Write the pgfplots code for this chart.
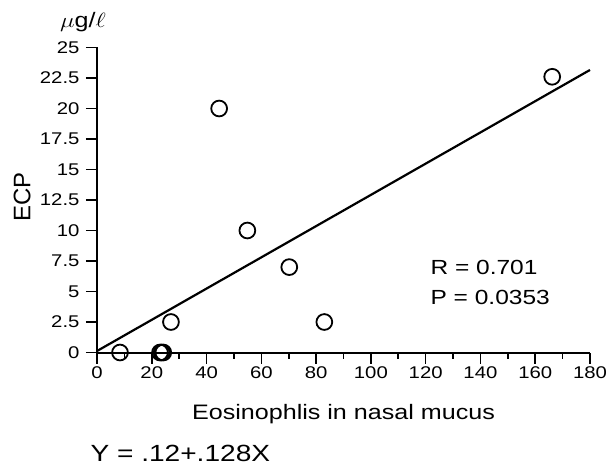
\documentclass[border=0pt]{standalone}
\usepackage{graphicx}
\usepackage{pgfplots}
\pgfplotsset{compat=1.18}
\usepackage{fontspec}
\setmainfont{Liberation Sans}
\newcommand\wide[1]{\scalebox{1.2}[1]{#1}}
\begin{document}
\begin{tikzpicture}
\useasboundingbox (-97bp,-115.5bp) rectangle (515bp,352.5bp);
\begin{axis}[
  at={(0bp,0bp)}, anchor=south west,
  scale only axis, width=493bp, height=305bp,
  xmin=0, xmax=180, ymin=0, ymax=25,
  axis x line=bottom, axis y line=left,
  axis line style={line width=2bp, -},
  xtick={0,20,40,60,80,100,120,140,160,180},
  xticklabels={\wide{0},\wide{20},\wide{40},\wide{60},\wide{80},\wide{100},\wide{120},\wide{140},\wide{160},\wide{180}},
  minor x tick num=1,
  ytick={0,2.5,5,7.5,10,12.5,15,17.5,20,22.5,25},
  yticklabels={\wide{0},\wide{2.5},\wide{5},\wide{7.5},\wide{10},\wide{12.5},\wide{15},\wide{17.5},\wide{20},\wide{22.5},\wide{25}},
  tick align=outside,
  major tick length=11bp, minor tick length=6bp,
  every tick/.style={line width=1.6bp, black},
  tick label style={font=\fontsize{17}{17}\selectfont},
  yticklabel style={xshift=-3bp},
  xlabel={\wide{Eosinophlis in nasal mucus}},
  xlabel style={at={(axis description cs:0.5,-0.2016)}, anchor=center, font=\fontsize{21}{21}\selectfont},
  ylabel={ECP},
  ylabel style={at={(axis description cs:-0.152,0.51)}, anchor=center, font=\fontsize{24}{24}\selectfont},
  clip=false,
]
\addplot[line width=2.2bp, no marks] coordinates {(0,0.12) (180,23.16)};
\addplot[only marks, mark=o, mark size=7.9bp, mark options={line width=1.8bp, black}] coordinates {
  (8.4,0) (23,0) (23.6,0) (24.2,0) (27,2.5) (44.6,20) (54.9,10) (70.2,7) (83,2.5) (166.2,22.6)
};
\node[anchor=west, font=\fontsize{20.5}{20.5}\selectfont] at (axis cs:120.5,6.93) {\wide{R = 0.701}};
\node[anchor=west, font=\fontsize{20.5}{20.5}\selectfont] at (axis cs:120.5,4.47) {\wide{P = 0.0353}};
\node[anchor=center, font=\fontsize{21}{21}\selectfont] at (axis description cs:-0.0284,1.0836) {\wide{$\mu$g/$\ell$}};
\node[anchor=west, font=\fontsize{23.5}{23.5}\selectfont] at (axis description cs:-0.0203,-0.3295) {\wide{Y = .12+.128X}};
\end{axis}
\end{tikzpicture}
\end{document}
